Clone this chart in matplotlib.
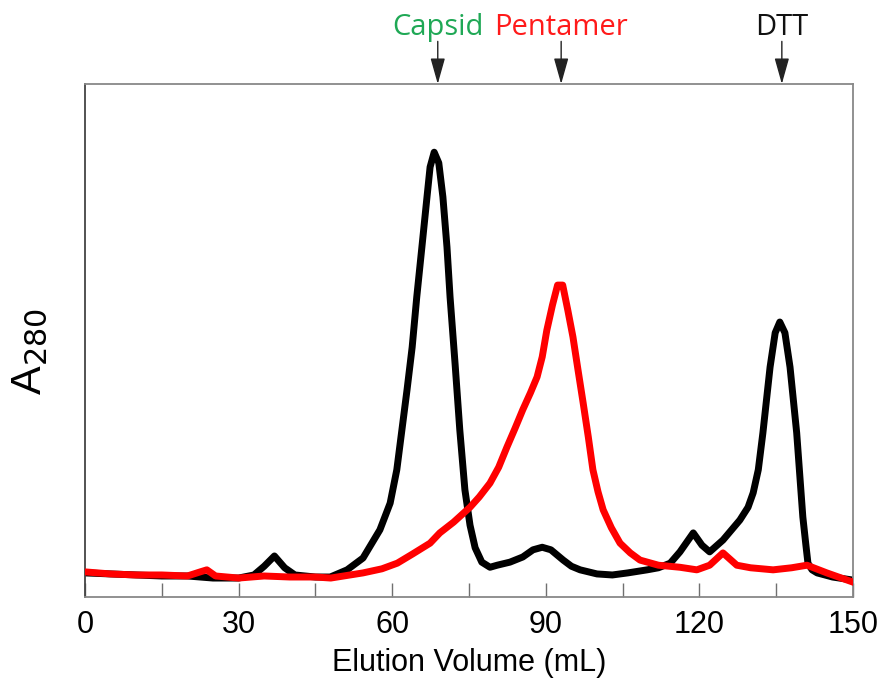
import matplotlib
matplotlib.use("Agg")
import matplotlib.pyplot as plt
from matplotlib.transforms import blended_transform_factory

# black trace (capsid sample) - elution volume (mL) and A280 (a.u.)
black_ml = [0, 5, 10, 15, 20, 25, 30, 33, 35, 37, 39, 41, 45, 47.9, 51.2, 54.3,
            57.6, 59.6, 60.9, 61.9, 62.9, 63.9, 64.8, 65.8, 66.8, 67.4, 68.2, 69.1,
            69.9, 70.7, 71.3, 72.3, 73.2, 74.2, 75.2, 76.2, 77.5, 79.1, 80.5, 83,
            85.5, 87.5, 89.3, 91, 93.4, 95, 96.7, 100, 103, 106, 109.8, 112, 114.3,
            116.2, 118.8, 120.5, 122, 124.6, 127.9, 129.5, 130.5, 131.5, 132.4,
            133.8, 134.8, 135.7, 136.7, 137.7, 139, 139.6, 140.2, 140.8, 141.2, 142,
            143, 146, 150]
black_a = [0.047, 0.045, 0.043, 0.041, 0.041, 0.037, 0.037, 0.043, 0.060, 0.080,
           0.057, 0.043, 0.039, 0.039, 0.053, 0.076, 0.131, 0.183, 0.248, 0.326,
           0.404, 0.487, 0.585, 0.682, 0.780, 0.838, 0.867, 0.846, 0.780, 0.682,
           0.585, 0.452, 0.326, 0.209, 0.140, 0.096, 0.068, 0.058, 0.062, 0.068,
           0.078, 0.092, 0.097, 0.092, 0.072, 0.060, 0.053, 0.045, 0.043, 0.047,
           0.053, 0.057, 0.066, 0.088, 0.125, 0.101, 0.088, 0.111, 0.150, 0.175,
           0.203, 0.248, 0.320, 0.448, 0.515, 0.536, 0.515, 0.448, 0.320, 0.238,
           0.156, 0.101, 0.066, 0.053, 0.047, 0.039, 0.033]

# red trace (pentamer sample)
red_ml = [0, 5, 10, 15, 20, 22.5, 23.8, 25.5, 30, 35, 40, 45, 48, 54.3, 58, 61, 64,
          67.4, 69.3, 72, 75.2, 77, 79.1, 80.8, 82.4, 84, 85.5, 87, 88.3, 89.3,
          90.2, 91.3, 92.3, 93.3, 94.3, 95.3, 96.3, 97.3, 98.3, 99.2, 100.2, 101.2,
          102.8, 104.5, 106.5, 108.4, 112, 116.2, 119.5, 122, 124.6, 127.3, 130,
          134.4, 138, 141, 144.9, 150]
red_a = [0.049, 0.045, 0.043, 0.043, 0.041, 0.049, 0.053, 0.041, 0.037, 0.041,
         0.039, 0.039, 0.037, 0.047, 0.055, 0.066, 0.084, 0.105, 0.125, 0.146,
         0.175, 0.195, 0.222, 0.253, 0.292, 0.329, 0.365, 0.398, 0.429, 0.468,
         0.520, 0.569, 0.608, 0.608, 0.559, 0.507, 0.442, 0.378, 0.312, 0.248,
         0.205, 0.170, 0.135, 0.105, 0.086, 0.072, 0.062, 0.058, 0.053, 0.062,
         0.086, 0.062, 0.057, 0.053, 0.057, 0.062, 0.047, 0.029]

marker_names = ["Capsid", "Pentamer", "DTT"]
marker_ml = [68.9, 93.0, 136.1]
marker_colors = ["#1fa855", "#ff1a1a", "#111111"]

xticks = list(range(0, 151, 15))
xlabels = [str(t) if t % 30 == 0 else "" for t in xticks]

plt.rcParams["font.family"] = ["Liberation Sans", "DejaVu Sans"]

fig = plt.figure(figsize=(8.88, 6.86), dpi=100)
ax = fig.add_axes([0.0957, 0.1297, 0.8649, 0.7479])

ax.plot(black_ml, black_a, color="black", lw=5, solid_joinstyle="round", zorder=2)
ax.plot(red_ml, red_a, color="#ff0000", lw=5, solid_joinstyle="round", zorder=3)

ax.set_xlim(0, 150)
ax.set_ylim(0, 1)
ax.set_xticks(xticks)
ax.set_xticklabels(xlabels, fontsize=22)
ax.set_yticks([])
ax.tick_params(axis="x", direction="in", length=10, width=1, color="#707070", pad=9)
for s in ax.spines.values():
    s.set_color("#888888")
    s.set_linewidth(1.3)
ax.spines["left"].set_color("#444444")

ax.set_xlabel("Elution Volume (mL)", fontsize=22, labelpad=6)
fig.text(30 / 888, 0.488, "A$_{280}$", rotation=90, fontsize=31,
         ha="center", va="center")

# markers above the plot
trans = blended_transform_factory(ax.transData, ax.transAxes)
for name, x, c in zip(marker_names, marker_ml, marker_colors):
    ax.annotate("", xy=(x, 1.0), xycoords=trans, xytext=(x, 1.083), textcoords=trans,
                arrowprops=dict(arrowstyle="-|>,head_length=1.6,head_width=0.45",
                                color="#222222", lw=1, shrinkA=0, shrinkB=0))
    ax.text(x, 1.096, name, transform=trans, ha="center", va="baseline",
            fontsize=21, color=c, family=["Open Sans", "DejaVu Sans"])

fig.savefig("out.png", dpi=100)
